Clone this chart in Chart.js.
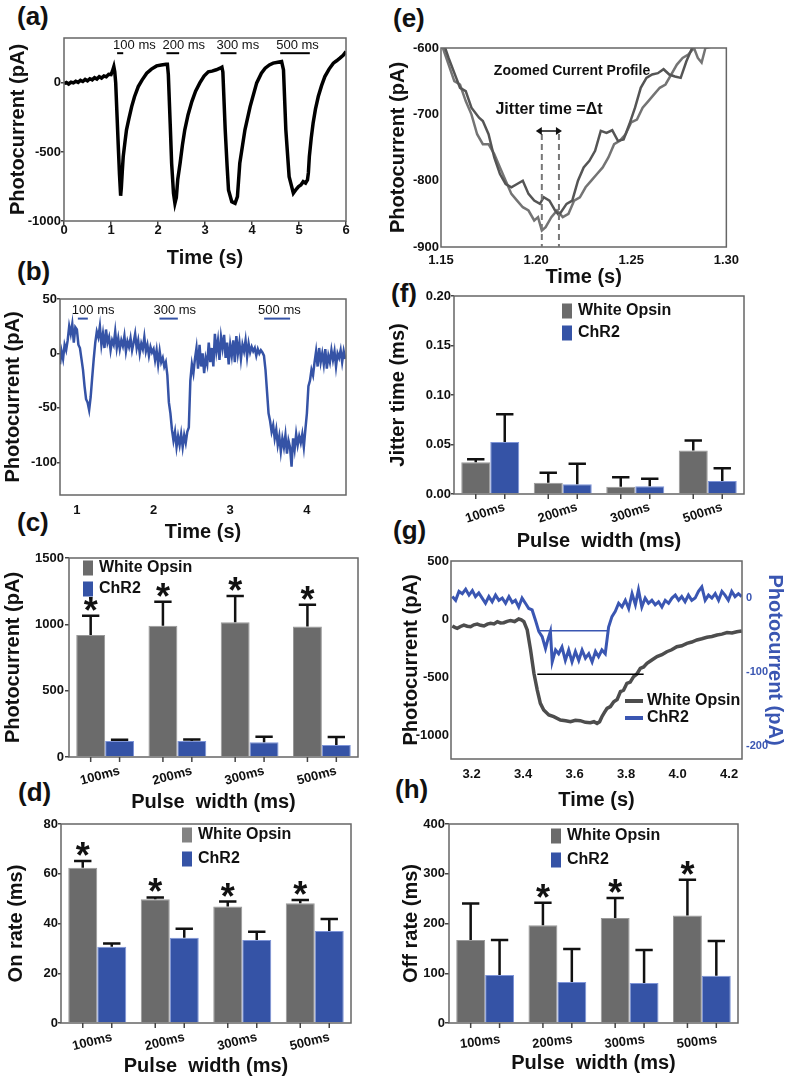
<!DOCTYPE html>
<html>
<head>
<meta charset="utf-8">
<script src="https://cdn.jsdelivr.net/npm/chart.js@4.4.1/dist/chart.umd.min.js"></script>
<style>
  body { margin: 0; background: #fff; }
  #fig { position: relative; width: 787px; height: 1076px; overflow: hidden; font-family: "Liberation Sans", Arial, Helvetica, sans-serif; }
  .tag { position: absolute; font-weight: bold; font-size: 26px; line-height: 26px; color: #111; }
  canvas { position: absolute; }
</style>
</head>
<body>
<div id="fig">
  <div class="tag" style="left:17px;top:3px">(a)</div>
  <div class="tag" style="left:17px;top:258px">(b)</div>
  <div class="tag" style="left:17px;top:509px">(c)</div>
  <div class="tag" style="left:18px;top:779px">(d)</div>
  <div class="tag" style="left:393px;top:5px">(e)</div>
  <div class="tag" style="left:391px;top:280px">(f)</div>
  <div class="tag" style="left:393px;top:517px">(g)</div>
  <div class="tag" style="left:395px;top:776px">(h)</div>
</div>
<script>
// ---- data ----

// (a) White Opsin photocurrent (pA) vs time (s)
const aTrace = [
  [0.00,-5],[0.05,3],[0.10,-8],[0.15,5],[0.20,0],[0.25,12],[0.30,4],[0.35,18],[0.40,10],[0.45,25],
  [0.50,15],[0.55,30],[0.60,22],[0.65,38],[0.70,28],[0.75,45],[0.80,35],[0.85,50],[0.90,45],[0.95,62],
  [1.00,60],[1.03,85],[1.06,118],[1.08,80],[1.10,0],[1.13,-250],[1.155,-460],[1.18,-660],[1.205,-817],
  [1.22,-760],[1.24,-640],[1.26,-534],[1.30,-420],[1.33,-340],[1.38,-260],[1.44,-172],[1.50,-100],
  [1.58,-27],[1.66,20],[1.76,70],[1.86,100],[1.97,123],[2.07,130],[2.17,135],[2.20,135],[2.22,60],
  [2.26,-300],[2.29,-582],[2.33,-800],[2.36,-872],[2.39,-830],[2.42,-700],[2.47,-582],[2.52,-450],
  [2.57,-340],[2.64,-230],[2.72,-135],[2.80,-60],[2.89,0],[2.98,50],[3.07,80],[3.15,85],[3.24,95],
  [3.32,106],[3.36,114],[3.38,80],[3.43,-340],[3.47,-600],[3.50,-775],[3.57,-860],[3.64,-872],
  [3.69,-824],[3.74,-582],[3.80,-450],[3.85,-340],[3.96,-172],[4.10,0],[4.20,70],[4.28,106],
  [4.37,130],[4.45,143],[4.55,150],[4.63,155],[4.67,94],[4.72,-340],[4.79,-679],[4.88,-799],
  [4.94,-770],[4.99,-751],[5.04,-740],[5.09,-715],[5.14,-725],[5.18,-703],[5.20,-650],[5.22,-534],
  [5.26,-400],[5.30,-292],[5.35,-190],[5.41,-99],[5.48,-20],[5.55,46],[5.64,100],[5.73,143],
  [5.80,160],[5.87,179],[5.94,200],[6.00,227]
];
const aPulseStart = [1.13, 2.18, 3.33, 4.60];
const aPulseEnd = [1.26, 2.45, 3.67, 5.23];
const aPulseLabels = ['100 ms', '200 ms', '300 ms', '500 ms'];
const aXTicks = [0, 1, 2, 3, 4, 5, 6];
const aYTicks = [-1000, -500, 0];

// (b) ChR2 photocurrent (pA) vs time (s)
const bTrace = [
  [0.78,-10],[0.80,2],[0.82,-5],[0.84,8],[0.86,3],[0.88,12],[0.90,25],[0.92,18],[0.94,27],[0.96,10],
  [0.98,24],[1.00,22],[1.02,8],[1.04,5],[1.06,-5],[1.08,-15],[1.10,-30],[1.12,-42],[1.14,-45],[1.16,-52],
  [1.18,-40],[1.20,-22],[1.22,-5],[1.24,10],[1.26,20],[1.28,15],[1.30,25],[1.32,8],[1.34,18],[1.36,5],
  [1.38,22],[1.40,10],[1.42,15],[1.44,3],[1.46,12],[1.48,8],[1.50,20],[1.52,5],[1.54,14],[1.56,4],
  [1.58,12],[1.60,7],[1.62,16],[1.64,2],[1.66,11],[1.68,6],[1.70,14],[1.72,3],[1.74,10],[1.76,18],
  [1.78,5],[1.80,12],[1.82,0],[1.84,9],[1.86,4],[1.88,15],[1.90,2],[1.92,8],[1.94,-2],[1.96,6],
  [1.98,1],[2.00,4],[2.02,-6],[2.04,3],[2.06,-10],[2.08,2],[2.10,-8],[2.12,-4],[2.14,-12],[2.16,-8],
  [2.18,-20],[2.20,-45],[2.22,-55],[2.24,-70],[2.26,-80],[2.28,-72],[2.30,-86],[2.32,-76],[2.34,-84],[2.36,-74],
  [2.38,-86],[2.40,-75],[2.42,-82],[2.44,-72],[2.46,-68],[2.48,-25],[2.50,-10],[2.52,-18],[2.54,-5],[2.56,5],
  [2.58,-14],[2.60,8],[2.62,-12],[2.64,0],[2.66,-18],[2.68,-4],[2.70,-10],[2.72,10],[2.74,-8],[2.76,5],
  [2.78,-12],[2.80,18],[2.82,2],[2.84,12],[2.86,-6],[2.88,15],[2.90,5],[2.92,17],[2.94,-4],[2.96,10],
  [2.98,-10],[3.00,8],[3.02,-2],[3.04,12],[3.06,-8],[3.08,16],[3.10,0],[3.12,10],[3.14,-5],[3.16,8],
  [3.18,2],[3.20,12],[3.22,-3],[3.24,9],[3.26,1],[3.28,6],[3.30,2],[3.32,5],[3.34,-2],[3.36,4],
  [3.38,0],[3.40,3],[3.42,1],[3.44,-2],[3.46,-15],[3.48,-35],[3.50,-55],[3.52,-62],[3.54,-72],[3.56,-66],
  [3.58,-78],[3.60,-70],[3.62,-84],[3.64,-76],[3.66,-90],[3.68,-78],[3.70,-86],[3.72,-75],[3.74,-92],[3.76,-80],
  [3.78,-86],[3.80,-104],[3.82,-78],[3.84,-88],[3.86,-74],[3.88,-84],[3.90,-76],[3.92,-82],[3.94,-74],[3.96,-86],
  [3.98,-70],[4.00,-55],[4.02,-30],[4.04,-25],[4.06,-15],[4.08,-20],[4.10,-8],[4.12,2],[4.14,-12],[4.16,5],
  [4.18,-8],[4.20,0],[4.22,-10],[4.24,4],[4.26,-14],[4.28,-2],[4.30,-8],[4.32,3],[4.34,-6],[4.36,2],
  [4.38,-12],[4.40,0],[4.42,-4],[4.44,3],[4.46,-8],[4.48,2],[4.50,-5]
];
const bPulseStart = [1.013, 2.077, 3.442];
const bPulseEnd = [1.143, 2.317, 3.781];
const bPulseLabels = ['100 ms', '300 ms', '500 ms'];
const bXTicks = [1, 2, 3, 4];
const bYTicks = [-100, -50, 0, 50];

// (e) zoomed current profile, two sweeps
const eTraceA = [
  [1.151,-590],[1.154,-615],[1.158,-645],[1.160,-660],[1.163,-665],[1.166,-690],[1.170,-705],[1.172,-710],
  [1.175,-730],[1.178,-765],[1.181,-790],[1.184,-805],[1.187,-810],[1.190,-805],[1.193,-800],[1.196,-820],
  [1.199,-830],[1.202,-835],[1.204,-825],[1.207,-830],[1.210,-845],[1.212,-852],[1.216,-835],[1.219,-830],
  [1.222,-800],[1.225,-780],[1.228,-770],[1.231,-755],[1.234,-725],[1.237,-728],[1.240,-724],[1.243,-740],
  [1.246,-738],[1.249,-715],[1.252,-690],[1.255,-660],[1.258,-645],[1.261,-640],[1.264,-638],[1.267,-632],
  [1.270,-640],[1.273,-643],[1.276,-645],[1.279,-620],[1.282,-600],[1.284,-590]
];
const eTraceB = [
  [1.151,-600],[1.154,-625],[1.157,-650],[1.160,-655],[1.163,-680],[1.166,-700],[1.169,-730],[1.172,-745],
  [1.175,-745],[1.178,-760],[1.181,-780],[1.184,-800],[1.187,-820],[1.190,-830],[1.193,-840],[1.196,-845],
  [1.199,-860],[1.201,-855],[1.203,-875],[1.205,-870],[1.208,-855],[1.211,-845],[1.214,-855],[1.217,-850],
  [1.220,-830],[1.223,-825],[1.226,-810],[1.229,-800],[1.232,-790],[1.235,-780],[1.238,-765],[1.241,-745],
  [1.244,-740],[1.247,-730],[1.250,-712],[1.253,-708],[1.256,-690],[1.259,-680],[1.262,-670],[1.265,-660],
  [1.268,-655],[1.271,-640],[1.274,-625],[1.277,-615],[1.280,-610],[1.283,-600],[1.285,-615],[1.287,-622],
  [1.289,-600],[1.292,-598]
];
const eXTicks = [1.15, 1.20, 1.25, 1.30];
const eYTicks = [-900, -800, -700, -600];

// bar panels (c, d, f, h): mean and upper error per pulse width
const pulseWidths = ['100ms', '200ms', '300ms', '500ms'];
const cWhite = [920, 990, 1016, 984];
const cWhiteSd = [145, 180, 198, 164];
const cChr2 = [121, 121, 111, 90];
const cChr2Sd = [9, 10, 42, 61];
const dWhite = [62.4, 49.7, 46.8, 48.1];
const dWhiteSd = [2.7, 0.8, 2.0, 1.3];
const dChr2 = [30.7, 34.3, 33.4, 37.0];
const dChr2Sd = [1.3, 3.6, 3.3, 4.8];
const fWhite = [0.032, 0.0114, 0.0074, 0.044];
const fWhiteSd = [0.003, 0.0101, 0.0095, 0.010];
const fChr2 = [0.0525, 0.0098, 0.0078, 0.0131];
const fChr2Sd = [0.028, 0.0208, 0.0077, 0.0129];
const hWhite = [166.6, 196.7, 211, 216];
const hWhiteSd = [73.4, 44.8, 40.5, 72];
const hChr2 = [96.3, 82.3, 80.3, 95];
const hChr2Sd = [70.3, 66.2, 66.2, 69.6];
const cStars = [1, 1, 1, 1];
const dStars = [1, 1, 1, 1];
const hStars = [0, 1, 1, 1];
const cYTicks = [0, 500, 1000, 1500];
const dYTicks = [0, 20, 40, 60, 80];
const fYTicks = [0, 0.05, 0.10, 0.15, 0.20];
const hYTicks = [0, 100, 200, 300, 400];

// (g) overlay of one 300 ms response, White Opsin (left axis) and ChR2 (right axis)
const gWhite = [
  [3.125,-58],[3.135,-70],[3.144,-78],[3.157,-62],[3.170,-50],[3.183,-60],[3.196,-64],[3.209,-48],
  [3.222,-41],[3.235,-52],[3.248,-58],[3.261,-42],[3.274,-35],[3.287,-40],[3.300,-21],[3.312,-32],
  [3.325,-30],[3.338,-18],[3.351,-12],[3.367,-20],[3.383,2],[3.393,-5],[3.403,-21],[3.416,-92],
  [3.429,-264],[3.442,-464],[3.455,-608],[3.467,-722],[3.480,-779],[3.500,-822],[3.519,-837],[3.545,-865],
  [3.565,-872],[3.584,-880],[3.603,-868],[3.622,-871],[3.642,-885],[3.661,-888],[3.675,-880],[3.687,-894],
  [3.697,-880],[3.706,-837],[3.716,-800],[3.726,-765],[3.739,-750],[3.752,-708],[3.765,-690],[3.778,-622],
  [3.790,-610],[3.803,-550],[3.816,-540],[3.829,-493],[3.842,-470],[3.855,-422],[3.868,-410],[3.881,-379],
  [3.900,-350],[3.920,-321],[3.939,-305],[3.958,-279],[3.977,-262],[3.997,-236],[4.016,-228],[4.036,-207],
  [4.055,-196],[4.075,-178],[4.094,-168],[4.114,-155],[4.133,-148],[4.153,-135],[4.172,-128],[4.192,-115],
  [4.211,-118],[4.230,-107],[4.249,-101]
];
const gChr2 = [
  [3.125,2],[3.138,-3],[3.151,9],[3.164,6],[3.177,12],[3.190,4],[3.203,10],[3.215,2],[3.228,7],[3.241,0],
  [3.254,-7],[3.267,2],[3.280,-5],[3.293,4],[3.306,-3],[3.319,0],[3.332,-7],[3.345,2],[3.358,-6],[3.370,-3],
  [3.383,-12],[3.396,0],[3.409,-7],[3.422,-14],[3.435,-16],[3.448,-30],[3.461,-45],[3.474,-52],[3.487,-68],[3.496,-56],
  [3.506,-45],[3.513,-86],[3.526,-70],[3.538,-75],[3.551,-66],[3.564,-84],[3.577,-70],[3.590,-86],[3.603,-72],[3.616,-84],
  [3.629,-70],[3.642,-81],[3.655,-75],[3.668,-86],[3.681,-72],[3.693,-79],[3.706,-70],[3.719,-75],[3.732,-39],[3.745,-25],
  [3.758,-18],[3.771,-7],[3.784,-12],[3.797,-3],[3.810,-14],[3.823,6],[3.836,-9],[3.848,11],[3.861,-12],[3.874,0],
  [3.887,-7],[3.900,-3],[3.913,-9],[3.926,-5],[3.939,-12],[3.952,-3],[3.965,-7],[3.978,0],[3.991,4],[4.004,-3],
  [4.016,2],[4.029,-5],[4.042,4],[4.055,-3],[4.068,0],[4.081,9],[4.094,15],[4.107,-3],[4.120,4],[4.133,0],
  [4.146,6],[4.159,-3],[4.172,9],[4.184,4],[4.197,-3],[4.210,9],[4.223,2],[4.236,6],[4.249,2]
];
// half-amplitude marks: [start s, end s, level pA]
const gWhiteHalf = [3.455, 3.868, -473];
const gChr2Half = [3.459, 3.726, -44];
const gXTicks = [3.2, 3.4, 3.6, 3.8, 4.0, 4.2];
const gYTicks = [-1000, -500, 0, 500];
const gY2Ticks = [-200, -100, 0];

// ---- drawing ----
const FONT = '"Liberation Sans", Arial, Helvetica, sans-serif';
const INK = '#111';
const GRAY = '#6b6b6b';
const BLUE = '#3553a6';
Chart.defaults.font.family = FONT;
Chart.defaults.color = INK;

const fig = document.getElementById('fig');

// canvas box around a plot area, so that the axis titles land where they are in the figure
function box(area, yTitleX, xTitleY, right) {
  const x = yTitleX - 12, y = area.T - 14;
  const r = right || area.R + 14;
  return { x, y, w: r - x, h: xTitleY + 12 - y, ml: area.L - x, mt: 14, mr: r - area.R, mb: xTitleY + 12 - area.B };
}

function place(b) {
  const c = document.createElement('canvas');
  c.width = b.w; c.height = b.h;
  c.style.left = b.x + 'px'; c.style.top = b.y + 'px';
  c.style.width = b.w + 'px'; c.style.height = b.h + 'px';
  fig.appendChild(c);
  return c.getContext('2d');
}

function baseOptions(b, padRight) {
  return {
    responsive: false, animation: false, devicePixelRatio: 1,
    layout: { padding: { top: b.mt, right: padRight === undefined ? b.mr : padRight, left: 0, bottom: 0 } },
    plugins: { legend: { display: false }, tooltip: { enabled: false } },
    elements: { point: { radius: 0 }, line: { tension: 0 } }
  };
}

function yScale(b, o) {
  return {
    type: 'linear', position: o.position || 'left', min: o.min, max: o.max,
    afterFit: s => { s.width = o.width || b.ml; },
    afterBuildTicks: s => { s.ticks = o.ticks.map(value => ({ value })); },
    border: { display: false },
    grid: { drawOnChartArea: false, drawTicks: o.tick > 0, tickLength: o.tick || 0, color: '#444', lineWidth: 1.5 },
    ticks: { padding: o.pad || 0, color: o.color || INK,
             font: { size: o.size || 13, weight: 'bold' }, callback: o.fmt || (v => v) },
    title: { display: true, text: o.title, color: o.color || INK, padding: 0, font: { size: 20, weight: 'bold' } }
  };
}

function xLinear(b, o) {
  return {
    type: 'linear', min: o.min, max: o.max,
    afterFit: s => { s.height = b.mb; },
    afterBuildTicks: s => { s.ticks = o.ticks.map(value => ({ value })); },
    border: { display: false },
    grid: { display: o.tick > 0, drawOnChartArea: false, tickLength: o.tick || 0, color: '#444', lineWidth: 1.5 },
    ticks: { padding: o.pad, maxRotation: 0, autoSkip: false,
             font: { size: 13, weight: 'bold' }, color: INK, callback: o.fmt || (v => v) },
    title: { display: true, text: o.title, color: INK, padding: 0, font: { size: 20, weight: 'bold' } }
  };
}

const framePlugin = {
  id: 'frame',
  afterDatasetsDraw(chart) {
    const { ctx, chartArea: a } = chart;
    ctx.save();
    ctx.strokeStyle = '#666';
    ctx.lineWidth = 1.5;
    ctx.strokeRect(a.left, a.top, a.width, a.height);
    ctx.restore();
  }
};

// error bars, asterisks, bar-centre ticks, slanted category labels and the legend
function barExtras(o) {
  return {
    id: 'barExtras',
    afterDatasetsDraw(chart) {
      const { ctx, chartArea: a, scales: { x: xs, y: ys } } = chart;
      ctx.save();
      chart.data.datasets.forEach((ds, di) => {
        chart.getDatasetMeta(di).data.forEach((bar, i) => {
          const top = ys.getPixelForValue(ds.data[i] + o.errors[di][i]);
          const hw = bar.width * 0.3;
          ctx.strokeStyle = INK;
          ctx.lineWidth = 2.5;
          ctx.beginPath();
          ctx.moveTo(bar.x, bar.y); ctx.lineTo(bar.x, top);
          ctx.moveTo(bar.x - hw, top); ctx.lineTo(bar.x + hw, top);
          ctx.stroke();
          ctx.strokeStyle = '#444';
          ctx.lineWidth = 1.5;
          ctx.beginPath();
          ctx.moveTo(bar.x, a.bottom); ctx.lineTo(bar.x, a.bottom + 5);
          ctx.stroke();
          if (o.stars && o.stars[di] && o.stars[di][i]) {
            ctx.fillStyle = INK;
            ctx.font = 'bold 36px ' + FONT;
            ctx.textAlign = 'center';
            ctx.textBaseline = 'alphabetic';
            ctx.fillText('*', bar.x, top + 7);
          }
        });
      });
      // category labels
      ctx.fillStyle = INK;
      ctx.font = 'bold 13px ' + FONT;
      ctx.textAlign = 'center';
      ctx.textBaseline = 'middle';
      chart.data.labels.forEach((lab, i) => {
        ctx.save();
        ctx.translate(xs.getPixelForValue(i) - 5, a.bottom + 19);
        ctx.rotate(-o.angle * Math.PI / 180);
        ctx.fillText(lab, 0, 0);
        ctx.restore();
      });
      // legend
      const lg = o.legend;
      chart.data.datasets.forEach((ds, di) => {
        const y = a.top + lg.y + di * lg.gap;
        ctx.fillStyle = (lg.colors && lg.colors[di]) || ds.backgroundColor;
        ctx.fillRect(a.left + lg.x, y - 7.5, 10, 15);
        ctx.fillStyle = INK;
        ctx.font = 'bold 16px ' + FONT;
        ctx.textAlign = 'left';
        ctx.fillText(ds.label, a.left + lg.x + 16, y);
      });
      ctx.restore();
    }
  };
}

// light-pulse bars with their labels (panels a, b)
function pulseMarks(o) {
  return {
    id: 'pulses',
    afterDatasetsDraw(chart) {
      const { ctx, scales: { x, y } } = chart;
      const py = y.getPixelForValue(o.level);
      ctx.save();
      o.starts.forEach((s, i) => {
        const x0 = x.getPixelForValue(s), x1 = x.getPixelForValue(o.ends[i]);
        ctx.strokeStyle = o.color;
        ctx.lineWidth = 2;
        ctx.beginPath(); ctx.moveTo(x0, py); ctx.lineTo(x1, py); ctx.stroke();
        ctx.fillStyle = INK;
        ctx.font = '13px ' + FONT;
        ctx.textAlign = 'left';
        ctx.textBaseline = 'middle';
        ctx.fillText(o.labels[i], x0 + o.dx, py - 8);
      });
      ctx.restore();
    }
  };
}

function barChart(b, o) {
  return new Chart(place(b), {
    type: 'bar',
    data: {
      labels: pulseWidths,
      datasets: [
        { label: 'White Opsin', data: o.white, backgroundColor: GRAY, borderColor: '#999', borderWidth: 1 },
        { label: 'ChR2', data: o.chr2, backgroundColor: BLUE, borderColor: '#7f95d8', borderWidth: 1 }
      ]
    },
    options: Object.assign(baseOptions(b), {
      datasets: { bar: { categoryPercentage: 0.8, barPercentage: 1 } },
      scales: {
        x: {
          type: 'category', offset: true,
          afterFit: s => { s.height = b.mb; },
          grid: { display: false }, border: { display: false }, ticks: { display: false },
          title: { display: true, text: 'Pulse  width (ms)', color: INK, padding: 0, font: { size: 20, weight: 'bold' } }
        },
        y: yScale(b, o.y)
      }
    }),
    plugins: [framePlugin, barExtras({ errors: [o.whiteSd, o.chr2Sd], stars: [o.stars, null], angle: o.angle, legend: o.legend })]
  });
}

const pts = arr => arr.map(([x, y]) => ({ x, y }));

// (a)
const boxA = box({ L: 64, T: 38, R: 346, B: 221 }, 18, 258);
new Chart(place(boxA), {
  type: 'line',
  data: { datasets: [{ data: pts(aTrace), borderColor: '#000', borderWidth: 3.5 }] },
  options: Object.assign(baseOptions(boxA), {
    scales: {
      x: xLinear(boxA, { min: 0, max: 6, ticks: aXTicks, tick: 4, pad: -2, title: 'Time (s)' }),
      y: yScale(boxA, { min: -1000, max: 325, ticks: aYTicks, tick: 3, title: 'Photocurrent (pA)' })
    }
  }),
  plugins: [framePlugin, pulseMarks({ starts: aPulseStart, ends: aPulseEnd, labels: aPulseLabels, level: 215, color: '#000', dx: -4 })]
});

// (b)
const boxB = box({ L: 60, T: 299, R: 346, B: 495 }, 13, 532);
new Chart(place(boxB), {
  type: 'line',
  data: { datasets: [{ data: pts(bTrace), borderColor: BLUE, borderWidth: 2.5 }] },
  options: Object.assign(baseOptions(boxB), {
    scales: {
      x: xLinear(boxB, { min: 0.78, max: 4.51, ticks: bXTicks, tick: 0, pad: 8, title: 'Time (s)' }),
      y: yScale(boxB, { min: -130, max: 50, ticks: bYTicks, tick: 3, title: 'Photocurrent (pA)' })
    }
  }),
  plugins: [framePlugin, pulseMarks({ starts: bPulseStart, ends: bPulseEnd, labels: bPulseLabels, level: 32, color: BLUE, dx: -6 })]
});

// (c)
const boxC = box({ L: 69, T: 558, R: 358, B: 757 }, 13, 802);
barChart(boxC, {
  white: cWhite, whiteSd: cWhiteSd, chr2: cChr2, chr2Sd: cChr2Sd, stars: cStars, angle: 15,
  legend: { x: 14, y: 10, gap: 21 },
  y: { min: 0, max: 1500, ticks: cYTicks, tick: 4, pad: 1, title: 'Photocurrent (pA)' }
});

// (d)
const boxD = box({ L: 61, T: 824, R: 351, B: 1023 }, 16, 1066);
barChart(boxD, {
  white: dWhite, whiteSd: dWhiteSd, chr2: dChr2, chr2Sd: dChr2Sd, stars: dStars, angle: 14,
  legend: { x: 121, y: 11, gap: 24, colors: ['#838383', BLUE] },
  y: { min: 0, max: 80, ticks: dYTicks, tick: 3, title: 'On rate (ms)' }
});

// (e)
const boxE = box({ L: 441, T: 48, R: 731, B: 247 }, 398, 277);
new Chart(place(boxE), {
  type: 'line',
  data: {
    datasets: [
      { data: pts(eTraceA), borderColor: '#555', borderWidth: 2.5 },
      { data: pts(eTraceB), borderColor: '#747474', borderWidth: 2.5 }
    ]
  },
  options: Object.assign(baseOptions(boxE), {
    scales: {
      x: xLinear(boxE, { min: 1.15, max: 1.30, ticks: eXTicks, tick: 0, pad: 6, title: 'Time (s)', fmt: v => v.toFixed(2) }),
      y: yScale(boxE, { min: -900, max: -600, ticks: eYTicks, tick: 0, pad: 2, title: 'Photocurrent (pA)' })
    }
  }),
  plugins: [framePlugin, {
    id: 'jitter',
    afterDatasetsDraw(chart) {
      const { ctx, chartArea: a, scales: { x } } = chart;
      // troughs of the two sweeps mark the jitter
      const xs = chart.data.datasets
        .map(ds => ds.data.reduce((m, p) => (p.y < m.y ? p : m)))
        .map(p => x.getPixelForValue(p.x))
        .sort((p, q) => p - q);
      const ay = a.top + 83;
      ctx.save();
      ctx.strokeStyle = '#777';
      ctx.lineWidth = 2;
      ctx.setLineDash([6, 4]);
      xs.forEach(px => { ctx.beginPath(); ctx.moveTo(px, ay + 3); ctx.lineTo(px, a.bottom); ctx.stroke(); });
      ctx.setLineDash([]);
      const l = xs[0] - 6, r = xs[1] + 3;
      ctx.strokeStyle = INK;
      ctx.fillStyle = INK;
      ctx.lineWidth = 1.5;
      ctx.beginPath(); ctx.moveTo(l + 3, ay); ctx.lineTo(r - 3, ay); ctx.stroke();
      ctx.beginPath(); ctx.moveTo(l, ay); ctx.lineTo(l + 6, ay - 4); ctx.lineTo(l + 6, ay + 4); ctx.closePath(); ctx.fill();
      ctx.beginPath(); ctx.moveTo(r, ay); ctx.lineTo(r - 6, ay - 4); ctx.lineTo(r - 6, ay + 4); ctx.closePath(); ctx.fill();
      ctx.textAlign = 'center';
      ctx.textBaseline = 'middle';
      ctx.font = 'bold 14px ' + FONT;
      ctx.fillText('Zoomed Current Profile', a.left + 131, a.top + 23);
      ctx.font = 'bold 16px ' + FONT;
      ctx.fillText('Jitter time =\u0394t', a.left + 108, a.top + 62);
      ctx.restore();
    }
  }]
});

// (f)
const boxF = box({ L: 454, T: 296, R: 744, B: 494 }, 398, 541);
barChart(boxF, {
  white: fWhite, whiteSd: fWhiteSd, chr2: fChr2, chr2Sd: fChr2Sd, stars: null, angle: 18,
  legend: { x: 108, y: 15, gap: 22 },
  y: { min: 0, max: 0.2, ticks: fYTicks, tick: 3, title: 'Jitter time (ms)', fmt: v => v.toFixed(2) }
});

// (g)
const boxG = box({ L: 451, T: 561, R: 742, B: 759 }, 411, 800, 787);
new Chart(place(boxG), {
  type: 'line',
  data: {
    datasets: [
      { label: 'White Opsin', data: pts(gWhite), borderColor: '#4d4d4d', borderWidth: 3.5, yAxisID: 'y' },
      { label: 'ChR2', data: pts(gChr2), borderColor: '#3a56b2', borderWidth: 3, yAxisID: 'y2' }
    ]
  },
  options: Object.assign(baseOptions(boxG, 0), {
    scales: {
      x: xLinear(boxG, { min: 3.12, max: 4.25, ticks: gXTicks, tick: 0, pad: 8, title: 'Time (s)', fmt: v => v.toFixed(1) }),
      y: yScale(boxG, { min: -1200, max: 500, ticks: gYTicks, tick: 0, pad: 2, title: 'Photocurrent (pA)' }),
      y2: yScale(boxG, { position: 'right', width: boxG.mr, min: -217, max: 50, ticks: gY2Ticks, tick: 0, pad: 4, size: 11,
                         color: '#3a56b2', title: 'Photocurrent (pA)' })
    }
  }),
  plugins: [framePlugin, {
    id: 'halfMarks',
    afterDatasetsDraw(chart) {
      const { ctx, chartArea: a, scales: { x, y, y2 } } = chart;
      ctx.save();
      ctx.lineWidth = 1.5;
      ctx.strokeStyle = '#000';
      ctx.beginPath();
      ctx.moveTo(x.getPixelForValue(gWhiteHalf[0]), y.getPixelForValue(gWhiteHalf[2]));
      ctx.lineTo(x.getPixelForValue(gWhiteHalf[1]), y.getPixelForValue(gWhiteHalf[2]));
      ctx.stroke();
      ctx.strokeStyle = '#3a56b2';
      ctx.beginPath();
      ctx.moveTo(x.getPixelForValue(gChr2Half[0]), y2.getPixelForValue(gChr2Half[2]));
      ctx.lineTo(x.getPixelForValue(gChr2Half[1]), y2.getPixelForValue(gChr2Half[2]));
      ctx.stroke();
      // legend
      ctx.font = 'bold 16px ' + FONT;
      ctx.textAlign = 'left';
      ctx.textBaseline = 'middle';
      chart.data.datasets.forEach((ds, di) => {
        const ly = a.top + 140 + di * 17;
        ctx.strokeStyle = ds.borderColor;
        ctx.lineWidth = 4;
        ctx.beginPath(); ctx.moveTo(a.left + 174, ly); ctx.lineTo(a.left + 192, ly); ctx.stroke();
        ctx.fillStyle = INK;
        ctx.fillText(ds.label, a.left + 196, ly);
      });
      ctx.restore();
    }
  }]
});

// (h)
const boxH = box({ L: 449, T: 824, R: 738, B: 1023 }, 411, 1063);
barChart(boxH, {
  white: hWhite, whiteSd: hWhiteSd, chr2: hChr2, chr2Sd: hChr2Sd, stars: hStars, angle: 7,
  legend: { x: 102, y: 12, gap: 24 },
  y: { min: 0, max: 400, ticks: hYTicks, tick: 4, title: 'Off rate (ms)' }
});
</script>
</body>
</html>
